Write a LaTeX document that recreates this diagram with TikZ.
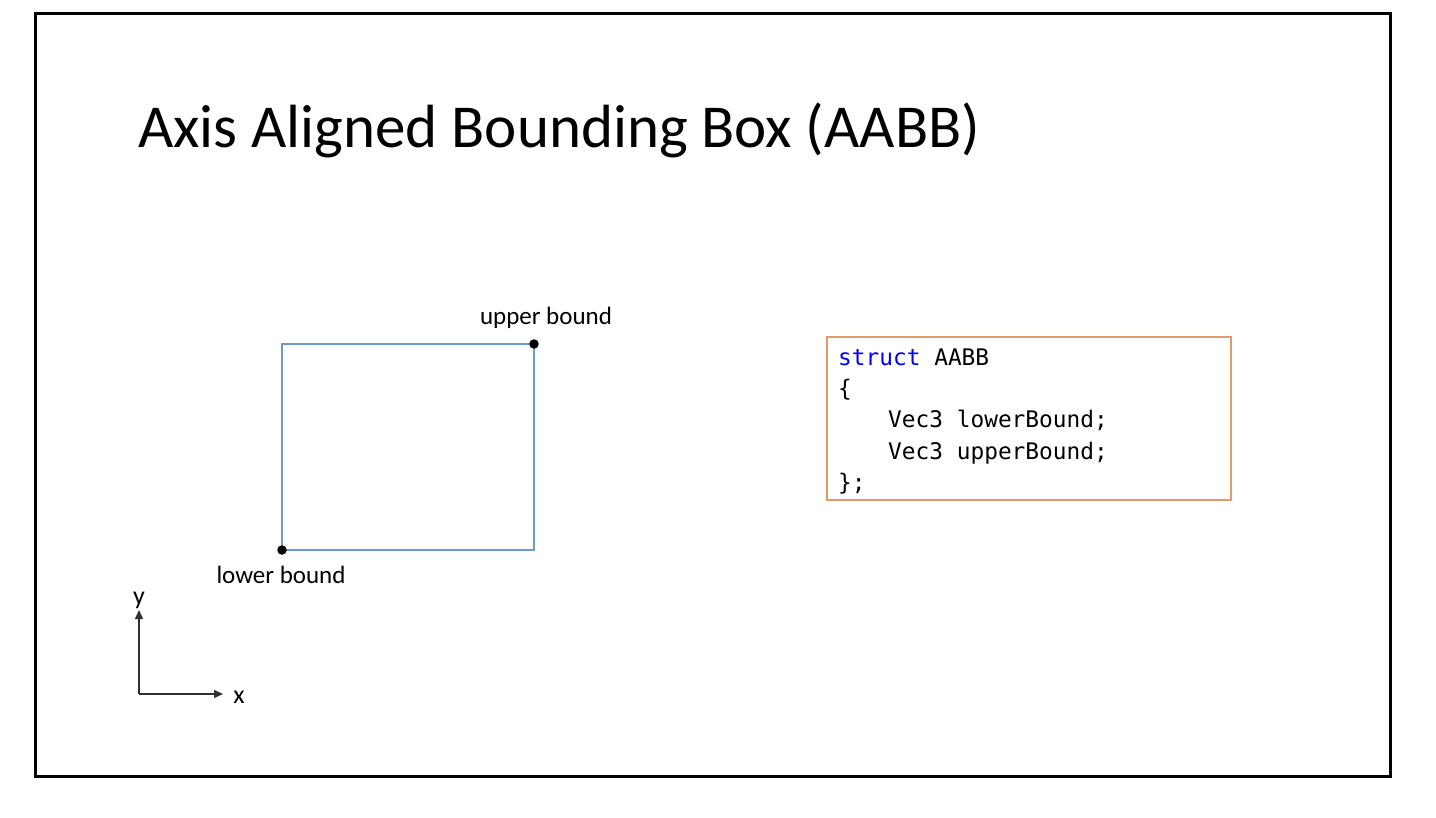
\documentclass[tikz,border=0pt]{standalone}
\usepackage{fontspec}
\setmainfont{Carlito}
\newfontfamily\codefont{DejaVu Sans Mono}
\usetikzlibrary{arrows.meta}
\definecolor{boxblue}{HTML}{6A9BD3}
\definecolor{codeorange}{HTML}{E39A68}
\definecolor{kwblue}{HTML}{0000FF}
\definecolor{axisgray}{HTML}{303030}
\tikzset{
  frame/.style={draw=black, line width=3pt},
  aabb/.style={draw=boxblue, line width=1.3pt},
  corner/.style={circle, fill=black, inner sep=0pt, minimum size=9.5pt},
  label/.style={font=\fontsize{25}{30}\selectfont, inner sep=0pt},
  codebox/.style={draw=codeorange, line width=1.5pt},
  codeline/.style={font=\codefont\fontsize{22.8}{31}\selectfont, inner sep=0pt, anchor=base west},
  axis/.style={draw=axisgray, line width=1.4pt, -{Triangle[length=9pt,width=8pt]}},
  axislabel/.style={font=\fontsize{26}{30}\selectfont, inner sep=0pt, anchor=base},
}
\begin{document}
\begin{tikzpicture}[x=1pt,y=-1pt]
  \useasboundingbox (0,0) rectangle (1436,818);
  % slide frame
  \draw[frame] (35,14) rectangle (1390,776);
  % title
  \node[anchor=base west, inner sep=0pt, font=\fontsize{61}{72}\selectfont] (title) at (138,148) {Axis Aligned Bounding Box (AABB)};
  % the box and its two corners
  \coordinate (lo) at (282,550);
  \coordinate (hi) at (534,344);
  \draw[aabb] (lo) rectangle (hi);
  \node[corner] (lodot) at (lo) {};
  \node[corner] (hidot) at (hi) {};
  \node[label, anchor=base] (lolab) at (281,583) {lower bound};
  \node[label, anchor=base] (hilab) at (546,325) {upper bound};
  % struct definition
  \draw[codebox] (827,337) rectangle (1231,500);
  \node[codeline] (c1) at (838,366) {\textcolor{kwblue}{struct} AABB};
  \node[codeline] (c2) at (838,397) {\{};
  \node[codeline] (c3) at (888,428) {Vec3 lowerBound;};
  \node[codeline] (c4) at (888,459) {Vec3 upperBound;};
  \node[codeline] (c5) at (838,490) {\};};
  % coordinate axes
  \coordinate (o) at (139,694);
  \coordinate (xe) at (223,694);
  \coordinate (ye) at (139,610);
  \draw[axis] (o) -- (xe);
  \draw[axis] (o) -- (ye);
  \node[axislabel] (xl) at (239,703) {x};
  \node[axislabel] (yl) at (139,604) {y};
\end{tikzpicture}
\end{document}
